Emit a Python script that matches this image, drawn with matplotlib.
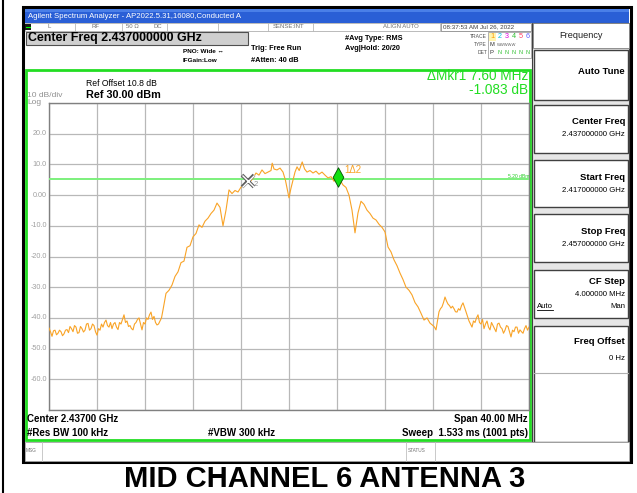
import matplotlib
matplotlib.use("Agg")
import matplotlib.pyplot as plt
from matplotlib.patches import Rectangle
from matplotlib.path import Path
import matplotlib.transforms as mtransforms

plt.rcParams['font.family'] = ['Liberation Sans', 'DejaVu Sans']

# ---------------- data ----------------
center_ghz = 2.437
span_mhz = 40.0
ref_level = 30.0
db_per_div = 10.0

freq_offset_mhz = [
    -20.000, -19.875, -19.750, -19.625, -19.500, -19.375, -19.250, -19.125, -19.000, -18.875,
    -18.750, -18.625, -18.500, -18.375, -18.250, -18.125, -18.000, -17.875, -17.750, -17.625,
    -17.500, -17.375, -17.250, -17.125, -17.000, -16.875, -16.750, -16.625, -16.500, -16.375,
    -16.250, -16.125, -16.000, -15.875, -15.750, -15.625, -15.500, -15.375, -15.250, -15.125,
    -15.000, -14.875, -14.750, -14.625, -14.500, -14.375, -14.250, -14.125, -14.000, -13.875,
    -13.750, -13.625, -13.500, -13.375, -13.250, -13.125, -13.000, -12.875, -12.750, -12.625,
    -12.500, -12.375, -12.250, -12.125, -12.000, -11.875, -11.750, -11.625, -11.500, -11.375,
    -11.250, -11.125, -11.000, -10.875, -10.750, -10.625, -10.500, -10.25,
    -10.00, -9.75, -9.50, -9.25, -9.00, -8.75, -8.50, -8.25, -8.00, -7.75,
    -7.50, -7.25, -7.00, -6.75, -6.50, -6.25, -6.00, -5.75, -5.50, -5.25,
    -5.00, -4.75, -4.50, -4.25, -4.00, -3.75, -3.50, -3.25, -3.00, -2.75,
    -2.50, -2.25, -2.00, -1.75, -1.50, -1.40, -1.25, -1.00, -0.75, -0.50,
    -0.30, 0.00, 0.15, 0.33, 0.50, 0.67, 0.85, 1.10, 1.30, 1.50,
    1.75, 2.00, 2.25, 2.50, 2.75, 3.00, 3.25, 3.50, 3.75, 4.10,
    4.50, 4.75, 5.00, 5.25, 5.50, 5.75, 6.00, 6.25, 6.50, 6.75,
    7.00, 7.25, 7.50, 7.75, 8.00, 8.25, 8.50, 8.75, 9.00, 9.25,
    9.50, 9.75, 10.00, 10.25, 10.50, 10.75, 11.00, 11.25, 11.50, 11.75,
    12.000, 12.125, 12.250, 12.375, 12.500, 12.625, 12.750, 12.875, 13.000, 13.125,
    13.250, 13.375, 13.500, 13.625, 13.750, 13.875, 14.000, 14.125, 14.250, 14.375,
    14.500, 14.625, 14.750, 14.875, 15.000, 15.125, 15.250, 15.375, 15.500, 15.625,
    15.750, 15.875, 16.000, 16.125, 16.250, 16.375, 16.500, 16.625, 16.750, 16.875,
    17.000, 17.125, 17.250, 17.375, 17.500, 17.625, 17.750, 17.875, 18.000, 18.125,
    18.250, 18.375, 18.500, 18.625, 18.750, 18.875, 19.000, 19.125, 19.250, 19.375,
    19.500, 19.625, 19.750, 19.875, 20.000,
]
level_dbm = [
    -43.3, -44.5, -46.0, -44.2, -44.0, -45.5, -45.0, -44.0, -44.5, -45.8,
    -45.2, -44.0, -43.8, -44.8, -42.8, -43.5, -44.5, -42.5, -43.0, -45.0,
    -44.8, -42.8, -43.5, -44.6, -44.0, -42.0, -41.8, -44.0, -43.5, -42.0,
    -42.5, -44.5, -45.6, -43.5, -44.0, -42.0, -43.0, -41.5, -40.7, -42.5,
    -43.0, -41.5, -43.5, -42.0, -41.5, -43.0, -43.8, -41.5, -42.0, -40.5,
    -39.0, -41.5, -41.0, -42.8, -42.5, -43.5, -43.9, -42.0, -41.5, -40.5,
    -40.0, -42.0, -43.9, -41.5, -42.0, -40.0, -40.5, -39.0, -38.1, -40.5,
    -39.5, -41.5, -42.3, -42.0, -41.0, -40.0, -37.4, -32.0,
    -31.0, -29.3, -26.5, -25.0, -22.0, -21.5, -17.0, -16.5, -13.6, -12.5,
    -9.7, -10.5, -8.5, -7.5, -6.0, -4.9, -2.6, -4.0, -10.0, -4.9,
    1.7, 0.5, 1.5, 1.0, 2.6, 3.0, 5.2, 4.3, 5.5, 7.2,
    6.5, 8.2, 7.0, 7.5, 8.0, 10.4, 8.5, 8.2, 8.8, 7.5,
    4.9, -0.9, 2.0, 4.9, 7.5, 9.2, 8.0, 10.8, 8.5, 7.5,
    8.0, 7.2, 7.8, 6.8, 7.5, 6.5, 5.6, 6.0, 4.5, 5.9,
    3.3, 2.5, 0.0, -4.9, -12.3, -5.8, -2.0, -3.0, -4.9, -6.0,
    -7.5, -8.1, -9.5, -10.5, -12.0, -16.9, -18.5, -21.1, -23.0, -25.4,
    -27.5, -30.0, -31.0, -32.5, -35.0, -36.4, -38.5, -40.7, -40.0, -41.7,
    -42.5, -43.0, -43.9, -41.0, -38.0, -37.0, -36.4, -35.0, -33.2, -34.5,
    -35.5, -36.0, -36.8, -36.2, -37.0, -38.0, -38.1, -37.0, -37.5, -36.0,
    -35.1, -36.5, -38.0, -39.5, -41.0, -42.0, -43.0, -41.0, -41.5, -40.0,
    -39.0, -41.5, -42.0, -40.5, -43.5, -42.0, -41.0, -43.0, -43.9, -41.5,
    -42.5, -43.5, -44.5, -42.0, -41.7, -43.0, -43.5, -45.0, -44.0, -42.5,
    -42.8, -44.5, -46.2, -44.0, -44.5, -43.0, -43.0, -45.0, -43.9, -44.5,
    -45.0, -43.5, -42.5, -44.0, -43.0,
]

display_line_dbm = 5.20
mkr2_freq, mkr2_level = -3.45, 4.6
mkr1_freq, mkr1_level = 4.10, 5.9

ytick_values = [20, 10, 0, -10, -20, -30, -40, -50, -60]
ytick_labels = ["20.0", "10.0", "0.00", "-10.0", "-20.0", "-30.0", "-40.0", "-50.0", "-60.0"]

# ---------------- figure ----------------
W, H = 637, 493
fig = plt.figure(figsize=(W / 100, H / 100), dpi=100)
fig.patch.set_facecolor('white')

bg = fig.add_axes([0, 0, 1, 1])
bg.set_xlim(0, W)
bg.set_ylim(H, 0)
bg.axis('off')


def rect(x0, y0, x1, y1, fc='none', ec='none', lw=1.0, z=1):
    bg.add_patch(Rectangle((x0, y0), x1 - x0, y1 - y0, facecolor=fc,
                           edgecolor=ec, linewidth=lw, zorder=z))


def txt(x, y, s, size=6, color='black', weight='normal', ha='left', va='center', z=5, **kw):
    bg.text(x, y, s, fontsize=size, color=color, fontweight=weight, ha=ha, va=va,
            zorder=z, **kw)


# outer table lines
bg.plot([3, 3], [0, H], color='black', lw=1.5, zorder=2)

# screenshot frame
rect(23, 7, 630.5, 462, fc='white', ec='black', lw=2.2, z=1)

# title bar
rect(24.5, 8.5, 629, 22.5, fc='#2a5fd6', z=2)
rect(24.5, 8.5, 629, 11.5, fc='#4a7fe8', z=2)
txt(28, 16, "Agilent Spectrum Analyzer - AP2022.5.31,16080,Conducted A", size=5.6, color='white')

# status row
rect(24.5, 22.5, 531, 31, fc='white', ec='#b0b0b0', lw=0.6, z=2)
rect(25, 24, 31, 30, fc='#1a1a1a', z=3)
bg.plot([26, 30], [27, 27], color='#00ff00', lw=0.8, zorder=4)
for xs in [75, 122, 167, 218, 268, 313, 440]:
    bg.plot([xs, xs], [22.5, 31], color='#b8b8b8', lw=0.6, zorder=3)
txt(48, 27, "L", size=4.3, color='#707070')
txt(92, 27, "RF", size=4.3, color='#707070')
txt(126, 27, "50 Ω", size=4.3, color='#707070')
txt(153, 27, "DC", size=4.3, color='#707070')
txt(273, 27, "SENSE:INT", size=4.3, color='#707070')
txt(383, 27, "ALIGN AUTO", size=4.3, color='#707070')
rect(441, 23, 531, 31, fc='white', ec='#909090', lw=0.6, z=3)
txt(443, 27, "08:37:53 AM Jul 26, 2022", size=4.5, color='#404040')

# center freq box
rect(25.5, 31.5, 248, 45, fc='#cfcfcf', ec='#505050', lw=0.8, z=3)
txt(27.5, 38.5, "Center Freq 2.437000000 GHz", size=8.9, weight='bold')

txt(183, 51.5, "PNO: Wide ↔", size=4.6, weight='bold')
txt(183, 61, "IFGain:Low", size=4.6, weight='bold')
txt(251, 49, "Trig: Free Run", size=5.3, weight='bold')
txt(251, 60, "#Atten: 40 dB", size=5.3, weight='bold')
txt(345, 38.5, "#Avg Type: RMS", size=5.3, weight='bold')
txt(345, 48.5, "Avg|Hold: 20/20", size=5.3, weight='bold')

# trace / type / det block
txt(487, 36.5, "TRACE", size=3.6, color='#505050', ha='right')
txt(487, 45, "TYPE", size=3.6, color='#505050', ha='right')
txt(487, 53, "DET", size=3.6, color='#505050', ha='right')
rect(488, 32, 531, 58, fc='white', ec='#909090', lw=0.5, z=3)
rect(489, 32.5, 496, 40.5, fc='#fff5b0', z=3)
trace_colors = ['#ff9900', '#00c0e0', '#e000e0', '#30c030', '#ff4060', '#6060ff']
for i, c in enumerate(trace_colors):
    txt(490.5 + i * 7, 36.5, str(i + 1), size=5.2, color=c, z=6)
txt(490, 45, "M", size=4.2, color='#303030', z=6)
txt(497, 45, "WWWWW", size=3.0, color='#606060', z=6)
txt(490, 53, "P", size=4.2, color='#303030', z=6)
for i in range(5):
    txt(497.5 + i * 7, 53, "N", size=4.0, color='#30c030', z=6)

# plot frame (green)
rect(25.5, 70, 530, 440, fc='white', ec='#22dd22', lw=2.0, z=2)

txt(27, 95.5, "10 dB/div", size=6.0, color='#909090', z=6)
txt(27, 102.5, "Log", size=6.0, color='#909090', z=6)
txt(86, 83, "Ref Offset 10.8 dB", size=6.2, z=6)
txt(86, 94.5, "Ref 30.00 dBm", size=7.8, weight='bold', z=6)
txt(528, 76.5, "ΔMkr1 7.60 MHz", size=9.8, color='#22dd22', ha='right', z=6)
txt(528, 90.5, "-1.083 dB", size=9.8, color='#22dd22', ha='right', z=6)

txt(27, 419.5, "Center 2.43700 GHz", size=7.0, weight='bold', z=6)
txt(27, 432.5, "#Res BW 100 kHz", size=7.0, weight='bold', z=6)
txt(208, 432.5, "#VBW 300 kHz", size=7.0, weight='bold', z=6)
txt(528, 419.5, "Span 40.00 MHz", size=7.0, weight='bold', ha='right', z=6)
txt(528, 432.5, "Sweep  1.533 ms (1001 pts)", size=7.0, weight='bold', ha='right', z=6)

# right soft-key panel
rect(532, 22.5, 629, 442, fc='#e6e6e6', ec='#404040', lw=0.8, z=2)
rect(533, 23, 628.5, 48, fc='white', ec='#808080', lw=0.6, z=3)
txt(581, 36, "Frequency", size=6.6, color='#202020', ha='center', z=6)
keys = [
    (50, 100, "Auto Tune", None, 72, None),
    (105, 153, "Center Freq", "2.437000000 GHz", 122, 135),
    (160, 207, "Start Freq", "2.417000000 GHz", 177, 190),
    (214, 262, "Stop Freq", "2.457000000 GHz", 232, 245),
    (270, 318, "CF Step", "4.000000 MHz", 282, 295),
    (326, 442, "Freq Offset", "0 Hz", 342, 358),
]
for (y0, y1, label, val, ly, vy) in keys:
    rect(533.5, y0, 628, y1, fc='white', ec='#404040', lw=1.0, z=3)
    txt(625, ly, label, size=6.8, weight='bold', ha='right', z=6)
    if val:
        txt(625, vy, val, size=5.6, ha='right', z=6)
bg.plot([533.5, 628], [373, 373], color='#b0b0b0', lw=0.8, zorder=4)
txt(537, 306, "Auto", size=5.6, z=6)
bg.plot([537, 553], [310, 310], color='black', lw=0.6, zorder=6)
txt(625, 306, "Man", size=5.6, ha='right', z=6)

# bottom message bar
rect(24.5, 442, 629, 460.5, fc='white', ec='#a0a0a0', lw=0.6, z=3)
for xs in [42, 406, 435]:
    bg.plot([xs, xs], [442, 460.5], color='#c0c0c0', lw=0.6, zorder=4)
txt(26, 451, "MSG", size=3.4, color='#707070', z=6)
txt(408, 451, "STATUS", size=3.4, color='#707070', z=6)

# caption
txt(325, 479, "MID CHANNEL 6 ANTENNA 3", size=21, weight='bold', ha='center', z=6)

# ---------------- graticule / trace ----------------
ax = fig.add_axes([49 / W, 1 - 410 / H, 480 / W, 307 / H])
ax.set_facecolor('white')
ax.set_xlim(-span_mhz / 2, span_mhz / 2)
ax.set_ylim(ref_level - 10 * db_per_div, ref_level)
ax.set_xticks([-20 + 4 * i for i in range(11)])
ax.set_yticks([ref_level - db_per_div * i for i in range(11)])
ax.tick_params(length=0, labelbottom=False, labelleft=False)
ax.grid(True, color='#b8b8b8', lw=0.9)
for s in ax.spines.values():
    s.set_color('#808080')
    s.set_linewidth(1.0)

ax.axhline(display_line_dbm, color='#7cf07c', lw=1.4, zorder=3)
ax.plot(freq_offset_mhz, level_dbm, color='#f9a326', lw=0.8, zorder=4)

# markers
ax.plot([mkr2_freq], [mkr2_level], marker='x', ms=9, mew=2.6, color='#606060', zorder=5)
ax.plot([mkr2_freq], [mkr2_level], marker='x', ms=9, mew=1.0, color='white', zorder=6)
ax.text(mkr2_freq + 0.5, mkr2_level - 1.2, "2", fontsize=5.5, color='#909090', zorder=6,
        ha='left', va='center')
diamond = Path([(0, 1), (0.55, 0), (0, -1), (-0.55, 0), (0, 1)],
               [Path.MOVETO, Path.LINETO, Path.LINETO, Path.LINETO, Path.CLOSEPOLY])
ax.plot([mkr1_freq], [mkr1_level], marker=diamond, ms=14, color='#11e011',
        mec='#005000', mew=0.6, zorder=6)
ax.text(mkr1_freq + 0.5, mkr1_level + 2.3, "1Δ2", fontsize=7, color='#f9a326', zorder=6,
        ha='left', va='center')

ax.text(20, display_line_dbm + 0.2, "5.20 dBm", fontsize=3.6, color='#22cc22',
        ha='right', va='bottom', zorder=6)

trans = mtransforms.blended_transform_factory(fig.transFigure, ax.transData)
for v, lab in zip(ytick_values, ytick_labels):
    fig.text(47 / W, v, lab, transform=trans, fontsize=5.2, color='#a0a0a0',
             ha='right', va='center')

fig.savefig('out.png', dpi=100)
